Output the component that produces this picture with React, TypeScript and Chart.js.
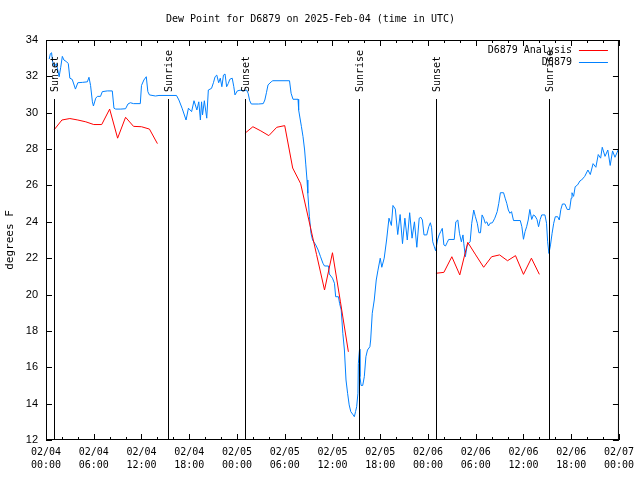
import React, { useEffect, useRef } from "react";
import { Chart, registerables } from "chart.js";

Chart.register(...registerables);

const chartTitle = "Dew Point for D6879 on 2025-Feb-04 (time in UTC)";
const yAxisTitle = "degrees F";

const xTickLabels: string[][] = [
  ["02/04", "00:00"], ["02/04", "06:00"], ["02/04", "12:00"], ["02/04", "18:00"],
  ["02/05", "00:00"], ["02/05", "06:00"], ["02/05", "12:00"], ["02/05", "18:00"],
  ["02/06", "00:00"], ["02/06", "06:00"], ["02/06", "12:00"], ["02/06", "18:00"],
  ["02/07", "00:00"],
];

const seriesNames = ["D6879 Analysis", "D6879"];
const seriesColors = ["#ff0000", "#0080ff"];

// hours since 02/04 00:00 UTC
const analysisHours = [
  1, 2, 3, 4, 5, 6, 7, 8, 9, 10, 11, 12, 13, 14,
  25, 26, 27, 28, 29, 30, 31, 32, 33, 34, 35, 36, 37, 38,
  49, 50, 51, 52, 53, 54, 55, 56, 57, 58, 59, 60, 61, 62,
];
const analysisValues = [
  29.05, 29.6, 29.68, 29.6, 29.5, 29.35, 29.35, 30.2, 28.6, 29.75, 29.25, 29.23, 29.1, 28.3,
  28.87, 29.23, 29.0, 28.74, 29.2, 29.29, 26.96, 26.1, 24.15, 22.2, 20.25, 22.3, 19.6, 16.85,
  21.17, 21.22, 22.08, 21.08, 22.87, 22.18, 21.5, 22.08, 22.18, 21.86, 22.14, 21.11, 22.0, 21.11,
];

const obsHours = [
  0.4, 0.55, 0.7, 0.8, 0.95, 1.1, 1.3, 1.5, 1.65, 1.85, 2.05, 2.25, 2.6, 2.8, 3.0, 3.3, 3.7, 4.0,
  4.6, 5.2, 5.4, 5.6, 5.83, 5.96, 6.25, 6.46, 6.85, 7.08, 7.7, 8.33, 8.54, 8.75, 9.4, 10.0, 10.3,
  10.6, 11.0, 11.85, 12.0, 12.3, 12.6, 12.8, 13.0, 13.75, 14.2, 16.4, 16.7, 17.1, 17.6, 17.9, 18.3,
  18.6, 18.96, 19.2, 19.4, 19.55, 19.67, 19.9, 20.2, 20.4, 20.8, 21.04, 21.25, 21.46, 21.7, 21.9,
  22.1, 22.3, 22.5, 22.7, 22.9, 23.1, 23.4, 23.6, 23.75, 24.04, 24.4, 24.8, 25.2, 25.4, 25.6, 25.8,
  26.7, 27.3, 27.5, 27.7, 27.9, 28.3, 28.5, 30.6, 30.8, 31.04, 31.67, 31.75, 31.96, 32.1, 32.3,
  32.5, 32.65, 32.8, 32.9, 33.1, 33.3, 33.5, 33.9, 34.2, 34.5, 34.8, 35.0, 35.5, 35.6, 36.0, 36.25,
  36.4, 36.75, 36.9, 37.1, 37.3, 37.5, 37.7, 37.9, 38.1, 38.3, 38.6, 38.75, 38.9, 39.04, 39.2,
  39.25, 39.4, 39.45, 39.6, 39.8, 40.0, 40.2, 40.4, 40.7, 40.8, 41.0, 41.25, 41.5, 41.7, 42.0,
  42.2, 42.5, 42.8, 43.1, 43.4, 43.6, 43.9, 44.2, 44.5, 44.8, 45.1, 45.4, 45.7, 46.0, 46.3, 46.6,
  46.9, 47.1, 47.3, 47.5, 47.85, 48.1, 48.3, 48.45, 48.6, 48.8, 48.96, 49.2, 49.4, 49.6, 49.8,
  50.0, 50.2, 50.4, 50.6, 51.3, 51.5, 51.75, 51.96, 52.2, 52.4, 52.5, 52.7, 52.9, 53.1, 53.3,
  53.5, 53.75, 53.96, 54.2, 54.4, 54.6, 54.8, 55.0, 55.2, 55.4, 55.6, 55.8, 56.1, 56.4, 56.7,
  56.9, 57.1, 57.5, 57.7, 57.9, 58.1, 58.3, 58.5, 58.75, 59.6, 59.8, 60.0, 60.2, 60.4, 60.6, 60.8,
  61.04, 61.25, 61.46, 61.7, 61.9, 62.1, 62.3, 62.7, 62.9, 63.04, 63.2, 63.4, 63.6, 63.8, 64.0,
  64.3, 64.5, 64.7, 64.9, 65.2, 65.5, 65.8, 66.0, 66.1, 66.3, 66.5, 66.8, 67.1, 67.3, 67.7, 68.1,
  68.4, 68.75, 69.1, 69.4, 69.7, 69.9, 70.25, 70.6, 70.9, 71.2, 71.5, 71.75, 72.0,
];
const obsValues = [
  32.95, 33.25, 33.3, 32.9, 32.6, 32.57, 32.7, 32.3, 31.98, 32.5, 33.1, 32.9, 32.8, 32.7, 31.9, 31.83, 31.3, 31.65,
  31.67, 31.7, 31.95, 31.5, 30.6, 30.37, 30.8, 30.9, 30.9, 31.16, 31.2, 31.2, 30.25, 30.2, 30.2, 30.22, 30.48,
  30.55, 30.5, 30.5, 31.5, 31.8, 31.98, 31.16, 30.98, 30.92, 30.95, 30.95, 30.7, 30.25, 29.6, 30.25, 30.06,
  30.66, 30.15, 30.6, 29.6, 30.6, 29.88, 30.66, 29.7, 31.25, 31.34, 31.65, 31.98, 32.07, 31.65, 31.9,
  31.43, 32.07, 32.13, 31.43, 31.6, 31.84, 31.9, 31.43, 30.98, 31.2, 31.24, 31.2, 31.25, 31.07, 30.66, 30.48,
  30.48, 30.5, 30.7, 31.1, 31.53, 31.7, 31.76, 31.76, 31.07, 30.74, 30.74, 30.15, 29.6, 29.23, 28.68,
  27.95, 27.13, 26.3, 25.57, 24.3, 23.37, 23.0, 22.73, 22.45, 22.08, 21.72, 21.57, 21.57, 21.13, 20.9, 20.62,
  19.88, 19.88, 19.5, 19.15, 17.87, 16.95, 15.3, 14.57, 13.93, 13.56, 13.38, 13.28, 13.56, 13.83, 14.57,
  16.2, 17.0, 15.48, 15.0, 15.0, 15.48, 16.58, 16.95, 17.13, 17.5, 18.97, 19.7, 20.8, 21.3, 22.0,
  21.5, 22.0, 23.0, 24.2, 23.8, 24.9, 24.7, 23.3, 24.4, 22.8, 24.2, 23.0, 24.5, 23.1, 24.0, 22.6,
  24.2, 24.25, 24.1, 23.28, 23.28, 23.73, 23.95, 23.7, 22.9, 22.63, 22.41, 23.0, 23.28, 23.46, 23.64,
  22.73, 22.67, 22.85, 23.03, 23.03, 24.0, 24.1, 23.37, 22.9, 23.28, 22.82, 22.08, 22.63, 22.82, 22.9,
  23.92, 24.65, 24.28, 23.92, 23.4, 23.4, 24.38, 24.2, 23.92, 24.0, 23.77, 23.92, 23.95, 24.2, 24.56,
  25.02, 25.6, 25.6, 25.3, 25.02, 24.65, 24.47, 24.56, 24.07, 24.07, 23.73, 23.04, 23.46, 23.73, 24.1, 24.68,
  24.13, 24.38, 24.32, 24.13, 23.73, 24.13, 24.38, 24.38, 23.92, 22.9, 22.26, 22.73, 23.37, 23.92, 24.28,
  24.28, 24.1, 24.68, 24.98, 24.98, 24.68, 24.68, 25.3, 25.6, 25.4, 25.93, 26.03, 26.25, 26.3, 26.5, 26.85,
  26.6, 27.2, 27.0, 27.7, 27.5, 28.1, 27.6, 27.95, 27.1, 27.9, 27.55, 27.8, 28.06,
];

const eventHours = [1.0, 15.28, 25.05, 39.28, 49.05, 63.17];
const eventLabels = ["Sunset", "Sunrise", "Sunset", "Sunrise", "Sunset", "Sunrise"];

const MONO = '"DejaVu Sans Mono", monospace';

function withGaps(hours: number[], values: number[]) {
  const out: { x: number; y: number | null }[] = [];
  for (let i = 0; i < hours.length; i++) {
    if (i > 0 && hours[i] - hours[i - 1] > 1.5) {
      out.push({ x: (hours[i] + hours[i - 1]) / 2, y: null });
    }
    out.push({ x: hours[i], y: values[i] });
  }
  return out;
}

const overlayPlugin = {
  id: "gnuplotOverlay",
  afterDatasetsDraw(chart: any) {
    const { ctx, chartArea, scales } = chart;
    const { left, right, top, bottom } = chartArea;
    const xs = scales.x;
    const ys = scales.y;
    ctx.save();
    ctx.strokeStyle = "#000";
    ctx.fillStyle = "#000";
    ctx.lineWidth = 1;

    // sunrise / sunset markers
    eventHours.forEach((h, i) => {
      const px = Math.round(xs.getPixelForValue(h)) + 0.5;
      ctx.beginPath();
      ctx.moveTo(px, top + 59);
      ctx.lineTo(px, bottom);
      ctx.stroke();
      ctx.save();
      ctx.translate(px + 1, top + 52);
      ctx.rotate(-Math.PI / 2);
      ctx.font = `10px ${MONO}`;
      ctx.textAlign = "left";
      ctx.textBaseline = "middle";
      ctx.fillText(eventLabels[i], 0, 0);
      ctx.restore();
    });

    // border
    ctx.strokeRect(left + 0.5, top + 0.5, right - left - 1, bottom - top - 1);

    // x ticks (inward, top and bottom)
    for (let h = 0; h <= 72; h += 2) {
      const px = Math.round(xs.getPixelForValue(h)) + 0.5;
      const len = h % 6 === 0 ? 6 : 3;
      ctx.beginPath();
      ctx.moveTo(px, bottom);
      ctx.lineTo(px, bottom - len);
      ctx.moveTo(px, top);
      ctx.lineTo(px, top + len);
      ctx.stroke();
    }
    // y ticks (inward, left and right)
    for (let v = 12; v <= 34; v += 2) {
      const py = Math.round(ys.getPixelForValue(v)) + 0.5;
      ctx.beginPath();
      ctx.moveTo(left, py);
      ctx.lineTo(left + 6, py);
      ctx.moveTo(right, py);
      ctx.lineTo(right - 6, py);
      ctx.stroke();
    }

    // key (top right, inside)
    ctx.font = `10px ${MONO}`;
    ctx.textAlign = "right";
    ctx.textBaseline = "middle";
    chart.data.datasets.forEach((ds: any, i: number) => {
      const yy = top + 10 + i * 12;
      ctx.fillStyle = "#000";
      ctx.fillText(ds.label, right - 47, yy);
      ctx.strokeStyle = ds.borderColor;
      ctx.beginPath();
      ctx.moveTo(right - 40, Math.round(yy) + 0.5);
      ctx.lineTo(right - 11, Math.round(yy) + 0.5);
      ctx.stroke();
    });
    ctx.restore();
  },
};

export default function App() {
  const canvasRef = useRef<HTMLCanvasElement | null>(null);

  useEffect(() => {
    if (!canvasRef.current) return;
    Chart.defaults.color = "#000";
    const chart = new Chart(canvasRef.current, {
      type: "line",
      data: {
        datasets: [
          {
            label: seriesNames[0],
            data: withGaps(analysisHours, analysisValues) as any,
            borderColor: seriesColors[0],
            backgroundColor: seriesColors[0],
            borderWidth: 1,
            pointRadius: 0,
            tension: 0,
            spanGaps: false,
            fill: false,
            order: 0,
          },
          {
            label: seriesNames[1],
            data: obsHours.map((h, i) => ({ x: h, y: obsValues[i] })) as any,
            borderColor: seriesColors[1],
            backgroundColor: seriesColors[1],
            borderWidth: 1,
            pointRadius: 0,
            tension: 0,
            fill: false,
            order: 1,
          },
        ],
      },
      options: {
        responsive: false,
        animation: false,
        devicePixelRatio: 1,
        layout: { padding: { left: 0, right: 19, top: 0, bottom: 0 } },
        plugins: {
          legend: { display: false },
          tooltip: { enabled: false },
          title: {
            display: true,
            text: chartTitle,
            color: "#000",
            font: { family: MONO, size: 10, weight: "normal", lineHeight: 1.2 },
            padding: { top: 13, bottom: 15 },
          },
        },
        scales: {
          x: {
            type: "linear",
            min: 0,
            max: 72,
            grid: { display: false, drawTicks: false },
            border: { display: false },
            afterFit: (scale: any) => {
              scale.height = 40;
            },
            ticks: {
              stepSize: 6,
              autoSkip: false,
              maxRotation: 0,
              minRotation: 0,
              padding: 6,
              color: "#000",
              font: { family: MONO, size: 10, lineHeight: 1.3 },
              callback: (_v: any, index: number) => xTickLabels[index],
            },
          },
          y: {
            type: "linear",
            min: 12,
            max: 34,
            grid: { display: false, drawTicks: false },
            border: { display: false },
            afterFit: (scale: any) => {
              scale.width = 46;
            },
            title: {
              display: true,
              text: yAxisTitle,
              color: "#000",
              font: { family: MONO, size: 11 },
              padding: { top: 4, bottom: 4 },
            },
            ticks: {
              stepSize: 2,
              padding: 8,
              color: "#000",
              font: { family: '"Liberation Sans", sans-serif', size: 11 },
            },
          },
        },
      },
      plugins: [overlayPlugin],
    });
    return () => chart.destroy();
  }, []);

  return (
    <div style={{ position: "absolute", left: 0, top: 0, width: 640, height: 480, background: "#fff" }}>
      <canvas ref={canvasRef} width={640} height={480} style={{ display: "block" }} />
    </div>
  );
}
